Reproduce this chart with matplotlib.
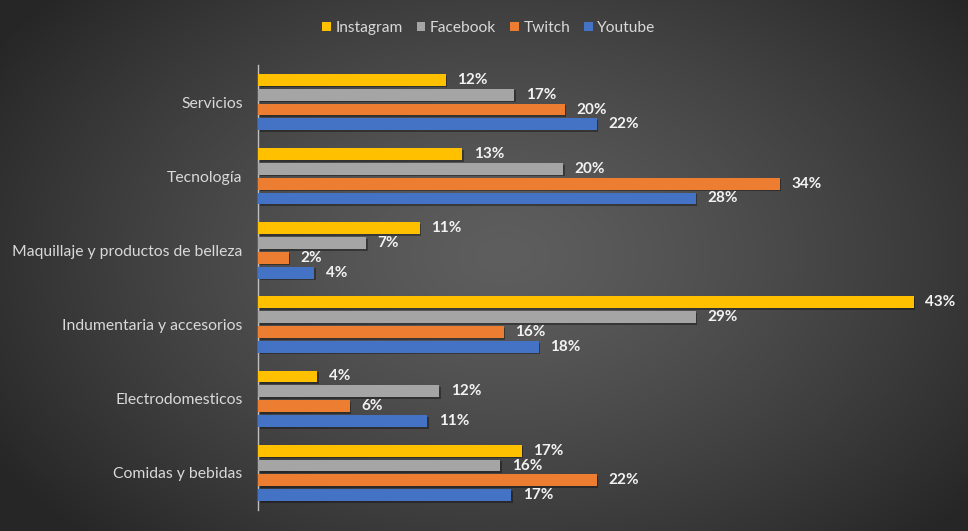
import numpy as np
import matplotlib
matplotlib.use("Agg")
import matplotlib.pyplot as plt
import matplotlib.patheffects as pe
from matplotlib.patches import Patch

categories = ["Servicios", "Tecnología", "Maquillaje y productos de belleza",
              "Indumentaria y accesorios", "Electrodomesticos", "Comidas y bebidas"]
series = ["Instagram", "Facebook", "Twitch", "Youtube"]
instagram = [12.3, 13.4, 10.6, 43.0, 3.9, 17.3]
facebook = [16.8, 20.0, 7.1, 28.7, 11.9, 15.9]
twitch = [20.1, 34.2, 2.0, 16.1, 6.0, 22.2]
youtube = [22.2, 28.7, 3.7, 18.4, 11.1, 16.6]
labels = {
    "Instagram": ["12%", "13%", "11%", "43%", "4%", "17%"],
    "Facebook": ["17%", "20%", "7%", "29%", "12%", "16%"],
    "Twitch": ["20%", "34%", "2%", "16%", "6%", "22%"],
    "Youtube": ["22%", "28%", "4%", "18%", "11%", "17%"],
}
values = {"Instagram": instagram, "Facebook": facebook, "Twitch": twitch, "Youtube": youtube}
colors = {"Instagram": "#FFC000", "Facebook": "#A5A5A5", "Twitch": "#ED7D31", "Youtube": "#4472C4"}

W, H = 968, 531
fig = plt.figure(figsize=(W / 100, H / 100), dpi=100)

# radial gradient background
bg = fig.add_axes([0, 0, 1, 1])
yy, xx = np.mgrid[0:H, 0:W]
cx, cy = W * 0.52, H * 0.48
r = np.sqrt(((xx - cx) / (W * 0.62)) ** 2 + ((yy - cy) / (H * 0.75)) ** 2)
r = np.clip(r, 0, 1)
inner = np.array([0x5e, 0x5e, 0x5e]) / 255
outer = np.array([0x26, 0x26, 0x26]) / 255
img = inner[None, None, :] * (1 - r[..., None] ** 1.3) + outer[None, None, :] * (r[..., None] ** 1.3)
bg.imshow(img, aspect="auto", extent=[0, 1, 0, 1], origin="upper")
bg.axis("off")

font = "Lato"
left = 258 / W
right = 945 / W
top = 1 - 65 / H
bottom = 1 - 510 / H
ax = fig.add_axes([left, bottom, right - left, top - bottom])
ax.patch.set_alpha(0)

n = len(categories)
y = np.arange(n)
pitch = 0.2
barh = 0.16
px_per = 15.25
xmax = (945 - 258) / px_per
for i, s in enumerate(series):
    offs = (i - 1.5) * pitch
    bars = ax.barh(y + offs, values[s], height=barh, color=colors[s], edgecolor="none", zorder=3)
    for b in bars:
        b.set_path_effects([pe.SimplePatchShadow(offset=(1.2, -1.2), shadow_rgbFace="black", alpha=0.35), pe.Normal()])
    for j, v in enumerate(values[s]):
        ax.text(v + 0.75, y[j] + offs, labels[s][j], va="center", ha="left",
                color="#f2f2f2", fontsize=11, fontweight="bold", family=font, zorder=4)

ax.set_xlim(0, xmax)
ax.set_ylim(n - 0.5, -0.5)
ax.set_yticks(y)
ax.set_yticklabels(categories, family=font, fontsize=11.3, color="#d9d9d9")
ax.tick_params(axis="y", length=0, pad=11)
ax.set_xticks([])
for sp in ["top", "right", "bottom"]:
    ax.spines[sp].set_visible(False)
ax.spines["left"].set_color("#bfbfbf")
ax.spines["left"].set_linewidth(1)

handles = [Patch(facecolor=colors[s], edgecolor="none") for s in series]
fig.legend(handles, series, loc="center", bbox_to_anchor=(489 / W, 1 - 28 / H), ncol=4,
           frameon=False, handlelength=0.55, handleheight=0.55, handletextpad=0.3, columnspacing=0.9,
           prop={"family": font, "size": 11.2}, labelcolor="#d9d9d9")

fig.savefig("out.png", dpi=100)
